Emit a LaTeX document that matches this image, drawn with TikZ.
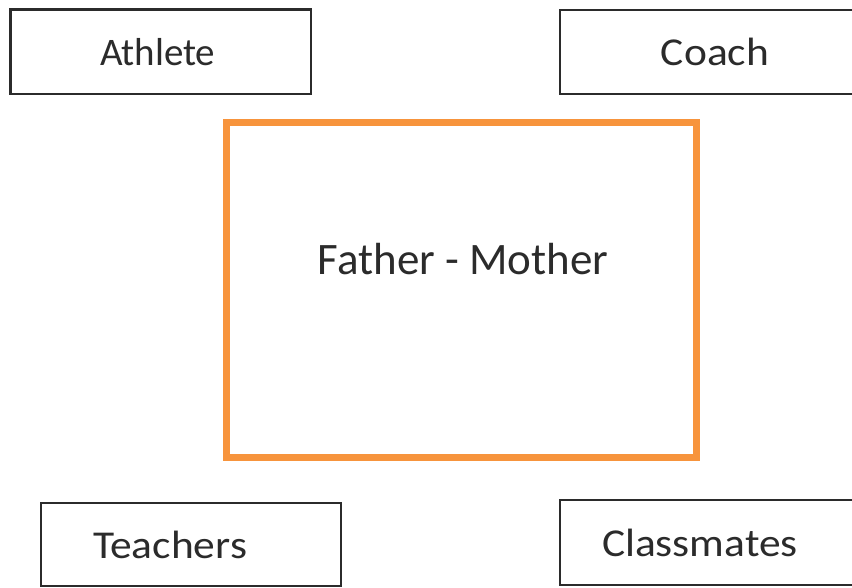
\documentclass[tikz,border=0pt]{standalone}
\usepackage{fontspec}
\setmainfont{Carlito}
\newfontfamily\widefont[FakeStretch=1.1]{Carlito}
\definecolor{framegray}{HTML}{2B2B2B}
\definecolor{famorange}{HTML}{F7943C}
\tikzset{
  rolebox/.style={draw=framegray, line width=2.5pt, fill=white, inner sep=0pt,
    font=\fontsize{39}{46}\selectfont, text=framegray},
  widerole/.style={rolebox, font=\widefont\fontsize{39.5}{46}\selectfont},
  familybox/.style={draw=famorange, line width=7pt, inner sep=0pt,
    font=\fontsize{45}{54}\selectfont, text=framegray,
    minimum width=470pt, text height=152pt, text depth=182pt},
}
\begin{document}
\begin{tikzpicture}[x=1pt, y=-1pt]
  \useasboundingbox (0,0) rectangle (852,588);
  \clip (0,0) rectangle (852,588);
  % side roles
  \node[rolebox, minimum width=300.5pt, minimum height=84.5pt, text width=121.5pt, inner xsep=89.5pt, align=left] (athlete) at (160.75,51.75) {Athlete};
  \node[widerole, minimum width=310pt, minimum height=84pt] (coach) at (715,52) {Coach};
  \node[widerole, minimum width=300pt, minimum height=83pt, text width=196pt, inner xsep=52pt, align=left] (teachers) at (191,544.5) {Teachers};
  \node[widerole, minimum width=310pt, minimum height=85pt, text width=226pt, inner xsep=42pt, align=left] (classmates) at (715,542.5) {Classmates};
  % parents in the middle
  \node[familybox] (family) at (461,290) {\hspace*{4pt}Father - Mother};
\end{tikzpicture}
\end{document}
